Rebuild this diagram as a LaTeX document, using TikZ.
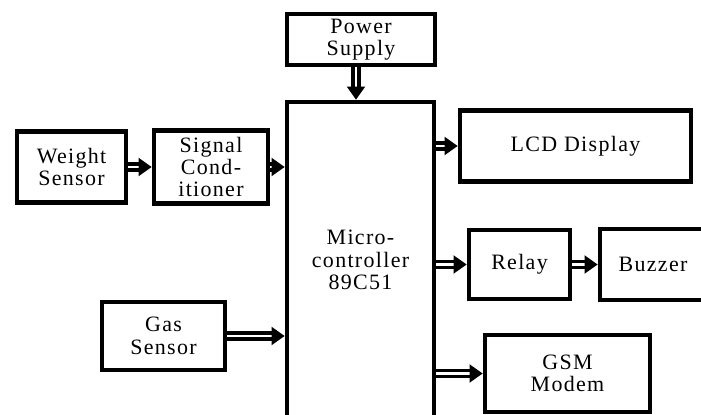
\documentclass[tikz,border=0pt]{standalone}
\usepackage{fontspec}
\setmainfont{Liberation Serif}
\usetikzlibrary{arrows.meta}

\begin{document}
\begin{tikzpicture}[x=0.02cm, y=-0.02cm,
  block/.style={rectangle, draw, line width=2.6pt, align=center, inner sep=1pt,
    font=\addfontfeatures{LetterSpace=6}\fontsize{12.5}{12.8}\selectfont},
  link/.style={double, double distance=1.4pt, line width=1.9pt,
    -{Triangle[length=7.5pt,width=10pt]}}
]
\useasboundingbox (0,0) rectangle (701,415);
\node[block, minimum width=2.94cm, minimum height=6.32cm] (mcu) at (360.5,260) {Micro-\\controller\\89C51};
\node[block, minimum width=2.96cm, minimum height=1.02cm] (power) at (361,39.5) {Power\\Supply};
\node[block, minimum width=2.18cm, minimum height=1.42cm] (weight) at (71.5,167) {Weight\\Sensor};
\node[block, minimum width=2.28cm, minimum height=1.46cm] (signal) at (211,167) {Signal\\Cond-\\itioner};
\node[block, minimum width=2.46cm, minimum height=1.36cm] (gas) at (163.5,336) {Gas\\Sensor};
\node[block, minimum width=4.62cm, minimum height=1.42cm] (lcd) at (575.5,146) {LCD Display};
\node[block, minimum width=2.02cm, minimum height=1.38cm] (relay) at (519.5,264.5) {Relay};
\node[block, minimum width=2.12cm, minimum height=1.42cm] (buzzer) at (653,264.5) {Buzzer};
\node[block, minimum width=3.3cm, minimum height=1.54cm] (gsm) at (567.5,373.5) {GSM\\Modem};

\draw[link] ([xshift=-0.1cm]power.south) -- ([xshift=-0.1cm]power.south |- mcu.north);
\draw[link] (weight) -- (signal);
\draw[link] (signal.east) -- (signal.east -| mcu.west);
\draw[link] (gas.east) -- (gas.east -| mcu.west);
\draw[link] (mcu.east |- lcd.west) -- (lcd.west);
\draw[link] (mcu.east |- relay.west) -- (relay.west);
\draw[link] (relay) -- (buzzer);
\draw[link] (mcu.east |- gsm.west) -- (gsm.west);
\end{tikzpicture}
\end{document}
